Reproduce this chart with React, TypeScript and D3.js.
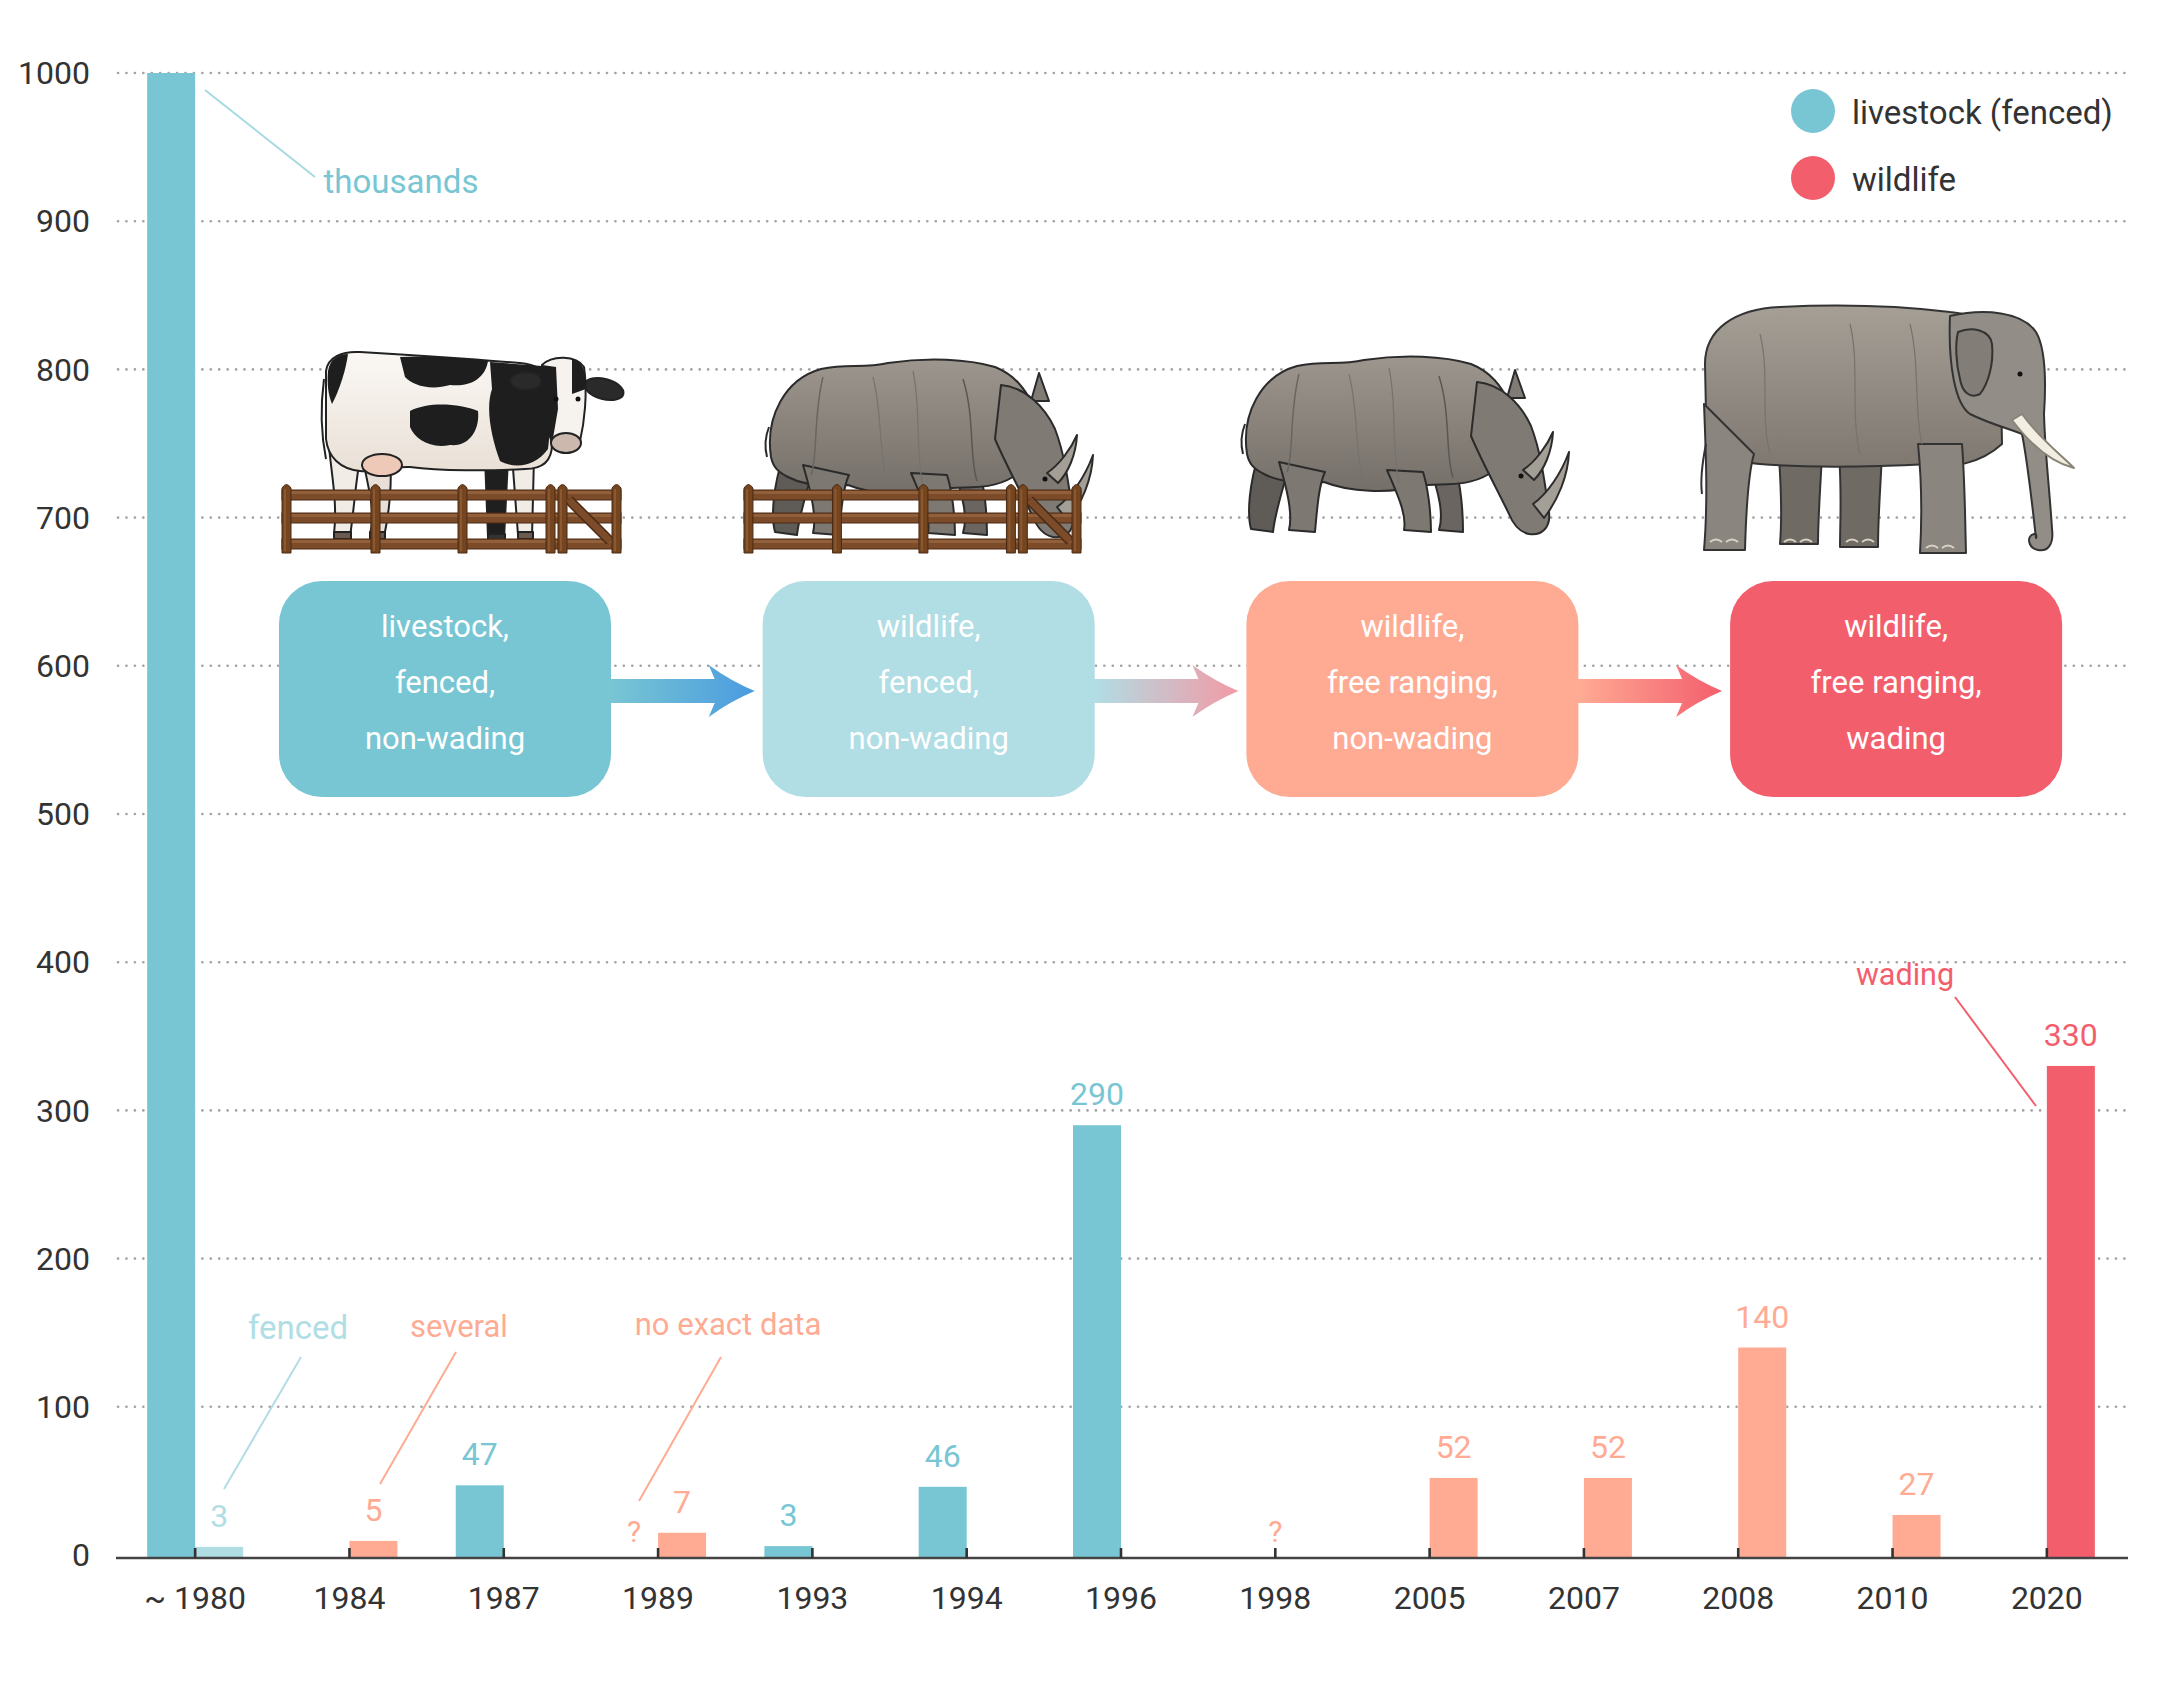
import React from 'react';
import * as d3 from 'd3';

// ---------- data ----------
const categories = ['~ 1980', '1984', '1987', '1989', '1993', '1994', '1996', '1998', '2005', '2007', '2008', '2010', '2020'];
// bar heights as drawn in the picture (small bars are drawn taller than their labels)
const livestockValues: (number | null)[] = [1000, null, 47, null, 6, 46, 290, null, null, null, null, null, null];
const wildlifeValues: (number | null)[] = [5.5, 9.5, null, 15, null, null, null, null, 52, 52, 140, 27, 330];
// printed value labels
const livestockLabels: (string | null)[] = [null, null, '47', null, '3', '46', '290', null, null, null, null, null, null];
const wildlifeLabels: (string | null)[] = ['3', '5', null, '7', null, null, null, null, '52', '52', '140', '27', '330'];
const wildlifeStage = ['fenced', 'free', 'free', 'free', 'free', 'free', 'free', 'free', 'free', 'free', 'free', 'free', 'wading'];
const unknownMarks = [
  { category: '1989', slot: 'livestock' },
  { category: '1998', slot: 'center' },
];
const yTicks = [0, 100, 200, 300, 400, 500, 600, 700, 800, 900, 1000];
const legendItems = ['livestock (fenced)', 'wildlife'];
const stageLabels = [
  ['livestock,', 'fenced,', 'non-wading'],
  ['wildlife,', 'fenced,', 'non-wading'],
  ['wildlife,', 'free ranging,', 'non-wading'],
  ['wildlife,', 'free ranging,', 'wading'],
];
const annotationTexts = ['thousands', 'fenced', 'several', 'no exact data', 'wading'];

// ---------- style / layout ----------
const W = 2162;
const H = 1684;
const FONT = "Roboto, 'Noto Sans', 'DejaVu Sans', sans-serif";
const C = {
  livestock: '#78c6d3',
  fenced: '#b1dde4',
  free: '#ffab94',
  wading: '#f35e6d',
  text: '#333333',
  grid: '#a3a3a3',
};
const stageColors = [C.livestock, C.fenced, C.free, C.wading];
const arrowGradients = [
  ['#78c6d3', '#4a9be0'],
  ['#b1dde4', '#f29aa5'],
  ['#ffab94', '#f35e6d'],
];
const annotationLayout = [
  { tx: 401, ty: 193, size: 33, color: C.livestock, line: [205, 90, 315, 177], lineColor: '#a6dae2' },
  { tx: 298, ty: 1339, size: 33, color: C.fenced, line: [301, 1357, 224, 1489], lineColor: C.fenced },
  { tx: 459, ty: 1337, size: 31, color: C.free, line: [456, 1352, 380, 1484], lineColor: C.free },
  { tx: 728, ty: 1335, size: 31, color: C.free, line: [721, 1357, 639, 1501], lineColor: C.free },
  { tx: 1905, ty: 985, size: 30.5, color: C.wading, line: [1955, 997, 2036, 1106], lineColor: C.wading },
];

const x = d3.scaleBand<string>().domain(categories).range([118, 2124]).padding(0);
const y = d3.scaleLinear().domain([0, 1000]).range([1555, 73]);
const sub = d3.scaleBand<string>().domain(['livestock', 'wildlife']).range([-48, 48]);
const center = (c: string) => (x(c) as number) + x.bandwidth() / 2;
const GRID_X0 = 118;
const GRID_X1 = 2128;
const AXIS_Y = 1558;

// ---------- illustrations ----------
const Fence = ({ tx, ty, sx }: { tx: number; ty: number; sx: number }) => {
  const posts = [0, 89, 176, 264, 276, 330];
  const rails = [7, 30, 56];
  return (
    <g transform={`translate(${tx},${ty}) scale(${sx},1)`}>
      {rails.map((r) => (
        <g key={r}>
          <rect x={0} y={r} width={339} height={10} fill="#7c4b29" stroke="#4b2a14" strokeWidth={1} />
          <rect x={0} y={r + 1} width={339} height={3} fill="#9a6841" opacity={0.7} />
        </g>
      ))}
      <line x1={287} y1={17} x2={328} y2={58} stroke="#4b2a14" strokeWidth={10} />
      <line x1={287} y1={17} x2={328} y2={58} stroke="#7c4b29" strokeWidth={7} />
      {posts.map((p) => (
        <g key={p}>
          <path d={`M${p},70 L${p},5 Q${p + 4.5},-2 ${p + 9},5 L${p + 9},70 Z`} fill="#74451f" stroke="#4b2a14" strokeWidth={1} />
          <rect x={p + 2} y={6} width={2} height={62} fill="#9a6841" opacity={0.6} />
        </g>
      ))}
    </g>
  );
};

const Cow = ({ tx, ty }: { tx: number; ty: number }) => (
  <g transform={`translate(${tx},${ty})`} stroke="#222" strokeWidth={2} strokeLinejoin="round">
    <path d="M8,85 C10,120 18,150 14,185 L30,188 C34,160 36,130 40,110 Z" fill="#f1ece6" />
    <path d="M42,105 C48,140 56,160 50,186 L64,188 C70,160 72,130 70,112 Z" fill="#e8e0d8" />
    <path d="M165,108 L168,188 L184,190 L188,110 Z" fill="#1f1f1f" />
    <path d="M192,106 L198,186 L212,188 L214,108 Z" fill="#f1ece6" />
    <rect x={14} y={183} width={17} height={7} fill="#6b5a50" />
    <rect x={50} y={183} width={15} height={7} fill="#6b5a50" />
    <rect x={168} y={185} width={17} height={7} fill="#333" />
    <rect x={198} y={183} width={15} height={7} fill="#6b5a50" />
    <path d="M6,22 C8,8 22,2 40,3 C90,6 150,10 200,14 C215,15 226,22 230,35 L232,95 C232,112 222,120 205,120 C170,122 120,122 90,118 C70,117 55,124 40,122 C20,120 8,108 6,90 Z" fill="url(#cowFill)" />
    <ellipse cx={62} cy={116} rx={20} ry={11} fill="#efc9b8" />
    <path d="M80,8 C110,6 150,10 168,12 C165,30 150,38 130,36 C110,42 92,36 85,28 Z" fill="#1e1e1e" stroke="none" />
    <path d="M90,62 C110,52 140,55 158,62 C160,80 150,98 130,96 C110,100 95,90 90,78 Z" fill="#1e1e1e" stroke="none" />
    <path d="M170,13 L222,17 C230,40 232,70 228,100 C215,118 195,120 180,112 C172,90 165,60 172,40 Z" fill="#1e1e1e" stroke="none" />
    <path d="M8,22 C10,10 18,5 28,5 C26,20 20,40 12,55 C8,45 7,35 8,22 Z" fill="#1e1e1e" stroke="none" />
    <ellipse cx={206} cy={32} rx={16} ry={9} fill="#2a2a2a" />
    <ellipse cx={284} cy={40} rx={20} ry={10} transform="rotate(15 284 40)" fill="#2a2a2a" />
    <path d="M222,16 C232,6 256,6 264,18 C268,45 264,75 260,92 C257,103 236,105 232,95 C226,70 220,40 222,16 Z" fill="#f6f2ee" />
    <path d="M222,16 C218,40 225,80 232,95 L238,60 L236,18 Z" fill="#1e1e1e" stroke="none" />
    <path d="M252,10 C262,12 266,20 266,40 L252,45 Z" fill="#1e1e1e" stroke="none" />
    <ellipse cx={246} cy={94} rx={15} ry={10} fill="#cdb8ae" />
    <circle cx={236} cy={50} r={2.5} fill="#111" stroke="none" />
    <circle cx={258} cy={50} r={2.5} fill="#111" stroke="none" />
    <path d="M4,30 C0,60 2,90 6,110" fill="none" strokeWidth={2} />
  </g>
);

const Rhino = ({ tx, ty }: { tx: number; ty: number }) => (
  <g transform={`translate(${tx},${ty})`} stroke="#2b2b2b" strokeWidth={2} strokeLinejoin="round">
    <path d="M20,100 C10,130 8,160 12,175 L34,178 C36,160 42,140 48,120 Z" fill="#5f5b56" />
    <path d="M190,110 C200,140 205,160 200,176 L224,178 C224,160 222,135 217,115 Z" fill="#6a6560" />
    <path d="M8,100 C2,60 22,22 58,12 C85,6 100,12 125,6 C165,0 205,2 232,10 C252,18 262,32 270,48 C278,75 270,105 250,120 C225,135 200,128 180,132 C150,140 110,138 85,128 C60,130 40,128 25,120 C15,115 10,110 8,100 Z" fill="url(#rhinoFill)" />
    <path d="M40,108 C48,135 54,160 50,176 L76,178 C78,155 80,130 86,118 Z" fill="#7d7872" />
    <path d="M148,116 C158,140 168,160 165,176 L192,178 C192,155 188,130 184,118 Z" fill="#7d7872" />
    <path d="M268,44 L276,16 L286,44 Z" fill="#807b75" />
    <path d="M238,28 C262,30 282,50 292,72 C302,98 306,130 310,158 C312,174 302,182 290,180 C280,178 274,170 270,160 C258,135 244,110 232,82 Z" fill="#7f7a74" />
    <path d="M294,150 C308,140 322,120 330,98 C329,122 319,146 305,164 Z" fill="#a39e96" />
    <path d="M284,116 C296,108 308,92 314,78 C313,98 305,116 295,126 Z" fill="#a39e96" />
    <circle cx={282} cy={122} r={2.5} fill="#111" stroke="none" />
    <path d="M200,22 C212,60 206,100 214,124" fill="none" stroke="#5c5751" strokeWidth={1.5} />
    <path d="M60,20 C50,60 55,100 48,118" fill="none" stroke="#6a655f" strokeWidth={1.5} />
    <path d="M110,20 C120,60 115,95 125,130" fill="none" stroke="#77726c" strokeWidth={1.2} />
    <path d="M150,14 C158,50 152,90 160,130" fill="none" stroke="#77726c" strokeWidth={1.2} />
    <path d="M6,70 C2,80 2,92 4,100" fill="none" strokeWidth={2} />
  </g>
);

const Elephant = ({ tx, ty }: { tx: number; ty: number }) => (
  <g transform={`translate(${tx},${ty})`} stroke="#333" strokeWidth={2} strokeLinejoin="round">
    <path d="M78,140 C82,190 82,215 80,240 L118,240 C118,215 120,190 122,150 Z" fill="#6f6a64" />
    <path d="M139,150 C142,190 140,220 140,243 L178,243 C178,215 180,190 182,150 Z" fill="#6f6a64" />
    <path d="M5,60 C5,25 35,5 80,3 C140,0 200,2 250,8 C275,10 290,20 300,30 L302,140 C280,160 250,165 230,160 C190,162 120,165 60,160 C30,158 10,140 6,110 Z" fill="url(#eleFill)" />
    <path d="M4,100 C6,150 8,200 4,246 L45,246 C46,210 48,170 54,150 Z" fill="#8a857f" />
    <path d="M218,140 C222,180 222,215 220,249 L266,249 C265,215 265,180 262,140 Z" fill="#8a857f" />
    <path d="M250,12 C285,4 322,8 336,28 C346,45 346,80 344,110 C345,150 350,190 352,225 C354,240 348,248 338,246 C328,244 326,232 334,230 C336,229 337,232 336,234 C332,200 328,160 322,130 C310,125 290,120 270,110 C255,100 248,60 250,12 Z" fill="#928d86" />
    <path d="M258,28 C272,22 290,26 292,40 C294,60 288,80 280,90 C270,95 262,88 260,75 C256,60 255,40 258,28 Z" fill="#827d77" />
    <path d="M312,116 C330,140 350,158 374,164 C360,150 340,135 322,110 Z" fill="#f3eee2" stroke="#8a8478" />
    <circle cx={320} cy={70} r={2.5} fill="#111" stroke="none" />
    <path d="M6,140 C2,160 0,175 2,190" fill="none" strokeWidth={2} />
    <path d="M60,30 C70,70 60,110 70,150" fill="none" stroke="#77726c" strokeWidth={1.2} />
    <path d="M150,20 C160,60 150,110 160,150" fill="none" stroke="#77726c" strokeWidth={1.2} />
    <path d="M210,20 C220,60 214,110 222,140" fill="none" stroke="#77726c" strokeWidth={1.2} />
    {[10, 84, 146, 226].map((fx) => (
      <path key={fx} d={`M${fx},${fx === 226 ? 244 : 238} q6,-5 12,0 M${fx + 16},${fx === 226 ? 244 : 238} q6,-5 12,0`} fill="none" stroke="#d8d2c6" strokeWidth={2} />
    ))}
  </g>
);

// ---------- chart ----------
export default function App() {
  const boxW = 332;
  const boxH = 216;
  const boxY = 581;
  const boxX = (i: number) => 279 + i * 483.7;
  const midY = boxY + boxH / 2 + 2;

  const bars: { key: string; x: number; v: number; color: string; label: string | null }[] = [];
  categories.forEach((c, i) => {
    const lv = livestockValues[i];
    const wv = wildlifeValues[i];
    if (lv != null) bars.push({ key: c + 'l', x: center(c) + (sub('livestock') as number), v: lv, color: C.livestock, label: livestockLabels[i] });
    if (wv != null) {
      const st = wildlifeStage[i] as 'fenced' | 'free' | 'wading';
      bars.push({ key: c + 'w', x: center(c) + (sub('wildlife') as number), v: wv, color: C[st], label: wildlifeLabels[i] });
    }
  });
  const bw = sub.bandwidth();

  return (
    <svg width={W} height={H} style={{ position: 'absolute', left: 0, top: 0, background: '#fff' }} fontFamily={FONT}>
      <defs>
        {arrowGradients.map((g, i) => (
          <linearGradient key={i} id={`ag${i}`} gradientUnits="userSpaceOnUse" x1={boxX(i) + boxW} x2={boxX(i + 1) - 8} y1={0} y2={0}>
            <stop offset="0" stopColor={g[0]} />
            <stop offset="1" stopColor={g[1]} />
          </linearGradient>
        ))}
        <linearGradient id="rhinoFill" x1="0" x2="0" y1="0" y2="1">
          <stop offset="0" stopColor="#9c968e" />
          <stop offset="1" stopColor="#756f69" />
        </linearGradient>
        <linearGradient id="eleFill" x1="0" x2="0" y1="0" y2="1">
          <stop offset="0" stopColor="#a59f96" />
          <stop offset="1" stopColor="#7e7871" />
        </linearGradient>
        <linearGradient id="cowFill" x1="0" x2="0" y1="0" y2="1">
          <stop offset="0" stopColor="#fbf8f5" />
          <stop offset="1" stopColor="#e9e0d6" />
        </linearGradient>
      </defs>
      <rect x={0} y={0} width={W} height={H} fill="#fff" />

      {/* grid */}
      {yTicks.filter((t) => t > 0).map((t) => (
        <line key={t} x1={GRID_X0} x2={GRID_X1} y1={y(t)} y2={y(t)} stroke={C.grid} strokeWidth={2.6} strokeLinecap="round" strokeDasharray="0.1 8.33" />
      ))}
      {yTicks.map((t) => (
        <text key={t} x={90} y={y(t)} dy="0.35em" textAnchor="end" fontSize={32} fill={C.text}>{t}</text>
      ))}

      {/* illustrations */}
      <Cow tx={320} ty={349} />
      <Fence tx={282} ty={483} sx={1} />
      <Rhino tx={763} ty={357} />
      <Fence tx={744} ty={483} sx={337 / 339} />
      <Rhino tx={1239} ty={354} />
      <Elephant tx={1700} ty={304} />

      {/* stage boxes + arrows */}
      {arrowGradients.map((_, i) => {
        const x0 = boxX(i) + boxW - 2;
        const tip = boxX(i + 1) - 8;
        const hb = tip - 46;
        const d = `M${x0},${midY - 12} L${hb + 6},${midY - 12} L${hb},${midY - 26} Q${hb + 22},${midY - 10} ${tip},${midY} Q${hb + 22},${midY + 10} ${hb},${midY + 26} L${hb + 6},${midY + 12} L${x0},${midY + 12} Z`;
        return <path key={i} d={d} fill={`url(#ag${i})`} />;
      })}
      {stageLabels.map((lines, i) => (
        <g key={i}>
          <rect x={boxX(i)} y={boxY} width={boxW} height={boxH} rx={43} ry={43} fill={stageColors[i]} />
          {lines.map((l, j) => (
            <text key={j} x={boxX(i) + boxW / 2} y={boxY + 56 + j * 56} textAnchor="middle" fontSize={31} fill="#fff">{l}</text>
          ))}
        </g>
      ))}

      {/* bars */}
      {bars.map((b) => (
        <rect key={b.key} x={b.x} y={y(b.v)} width={bw} height={AXIS_Y - y(b.v)} fill={b.color} />
      ))}
      {bars.filter((b) => b.label).map((b) => (
        <text key={b.key + 't'} x={b.x + bw / 2} y={y(b.v) - 20} textAnchor="middle" fontSize={32} fill={b.color}>{b.label}</text>
      ))}
      {unknownMarks.map((m) => {
        const cx = m.slot === 'livestock' ? center(m.category) + (sub('livestock') as number) + bw / 2 : center(m.category);
        return <text key={m.category} x={cx} y={1542} textAnchor="middle" fontSize={30} fill={C.free}>?</text>;
      })}

      {/* axis */}
      <line x1={GRID_X0 - 2} x2={GRID_X1} y1={AXIS_Y} y2={AXIS_Y} stroke="#444" strokeWidth={2.6} />
      {categories.map((c) => (
        <g key={c}>
          <line x1={center(c)} x2={center(c)} y1={AXIS_Y - 10} y2={AXIS_Y} stroke="#333" strokeWidth={2.6} />
          <text x={center(c)} y={1609} textAnchor="middle" fontSize={32} fill={C.text}>{c}</text>
        </g>
      ))}

      {/* annotations */}
      {annotationTexts.map((t, i) => {
        const a = annotationLayout[i];
        return (
          <g key={t}>
            <line x1={a.line[0]} y1={a.line[1]} x2={a.line[2]} y2={a.line[3]} stroke={a.lineColor} strokeWidth={2} />
            <text x={a.tx} y={a.ty} textAnchor="middle" fontSize={a.size} fill={a.color}>{t}</text>
          </g>
        );
      })}

      {/* legend */}
      {legendItems.map((l, i) => (
        <g key={l}>
          <circle cx={1813} cy={111 + i * 67} r={22} fill={i === 0 ? C.livestock : C.wading} />
          <text x={1852} y={124 + i * 67} fontSize={33} fill={C.text}>{l}</text>
        </g>
      ))}
    </svg>
  );
}
